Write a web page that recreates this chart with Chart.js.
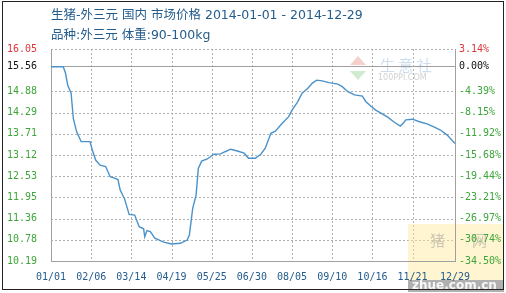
<!DOCTYPE html>
<html>
<head>
<meta charset="utf-8">
<script src="https://cdn.jsdelivr.net/npm/chart.js@4.4.0/dist/chart.umd.min.js"></script>
<style>
  html, body { margin: 0; padding: 0; background: #fff; overflow: hidden; }
  canvas { display: block; }
</style>
</head>
<body>
<canvas id="priceChart" width="506" height="293"></canvas>
<script>
// 生猪-外三元 price line, 2014

const titleLine1 = '生猪-外三元 国内 市场价格 2014-01-01 - 2014-12-29';
const titleLine2 = '品种:外三元 体重:90-100kg';

const dates = ['01/01','01/12','01/14','01/16','01/19','01/21','01/24','01/28','02/05','02/07',
  '02/10','02/14','02/19','02/23','02/27','03/02','03/04','03/08','03/12','03/17',
  '03/21','03/25','03/26','03/28','03/31','04/04','04/12','04/19','04/27','05/03',
  '05/05','05/08','05/11','05/13','05/16','05/21','05/27','06/02','06/06','06/11',
  '06/17','06/23','06/27','07/03','07/08','07/12','07/17','07/21','07/27','08/02',
  '08/05','08/10','08/14','08/19','08/23','08/27','09/01','09/07','09/15','09/19',
  '09/24','09/30','10/07','10/10','10/15','10/19','10/24','10/30','11/04','11/10',
  '11/13','11/15','11/21','11/27','12/04','12/10','12/16','12/22','12/29'];
const prices = [15.56,15.56,15.38,15.05,14.83,14.13,13.76,13.49,13.49,13.26,
  12.98,12.84,12.80,12.52,12.48,12.44,12.15,11.90,11.48,11.46,
  11.14,11.08,10.86,11.03,11.00,10.82,10.71,10.66,10.68,10.77,
  10.91,11.65,12.01,12.75,12.95,13.01,13.14,13.15,13.21,13.28,
  13.23,13.17,13.03,13.03,13.14,13.31,13.72,13.78,13.99,14.18,
  14.36,14.59,14.83,14.96,15.10,15.19,15.17,15.12,15.08,15.01,
  14.87,14.78,14.75,14.60,14.46,14.36,14.27,14.16,14.04,13.92,
  14.01,14.09,14.11,14.04,13.98,13.90,13.81,13.67,13.44];

const xTickDates = ['01/01','02/06','03/14','04/19','05/25','06/30','08/05','09/10','10/16','11/21','12/29'];
const priceTicks = [16.05, 15.56, 14.88, 14.29, 13.71, 13.12, 12.53, 11.95, 11.36, 10.78, 10.19];
const pctTicks = [3.14, 0.00, -4.39, -8.15, -11.92, -15.68, -19.44, -23.21, -26.97, -30.74, -34.50];

const red = '#e0353a';
const green = '#3ea53a';
const navy = '#245c8c';
const gridGrey = '#b0b0b0';
const axisGrey = '#a0a0a0';

// day of year (0 = 01/01)
function dayOf(md) {
  const [m, d] = md.split('/').map(Number);
  return (Date.UTC(2014, m - 1, d) - Date.UTC(2014, 0, 1)) / 86400000;
}
function mdOf(day) {
  const dt = new Date(Date.UTC(2014, 0, 1) + day * 86400000);
  return String(dt.getUTCMonth() + 1).padStart(2, '0') + '/' + String(dt.getUTCDate()).padStart(2, '0');
}

const points = dates.map((d, i) => ({ x: dayOf(d), y: prices[i] }));
const lastDay = dayOf(dates[dates.length - 1]);

const decor = {
  id: 'decor',
  beforeDraw(chart) {
    const c = chart.ctx;
    c.save();
    // 100ppi watermark
    c.fillStyle = 'rgba(230,120,110,0.35)';
    c.beginPath(); c.moveTo(358, 56); c.lineTo(350, 65); c.lineTo(366, 65); c.fill();
    c.fillStyle = 'rgba(120,200,120,0.35)';
    c.beginPath(); c.moveTo(350, 71); c.lineTo(366, 71); c.lineTo(358, 80); c.fill();
    c.font = '15px "Noto Sans CJK SC"';
    c.fillStyle = 'rgba(110,160,210,0.35)';
    c.textBaseline = 'middle';
    c.fillText('生 意 社', 380, 65);
    c.font = '8px "DejaVu Sans"';
    c.fillStyle = 'rgba(150,150,150,0.45)';
    c.fillText('100PPI.COM', 378, 78);
    // zhue watermark
    c.fillStyle = 'rgba(255,232,150,0.45)';
    c.fillRect(408, 224, 96, 56);
    c.fillStyle = 'rgba(150,150,150,0.75)';
    c.fillRect(408, 280, 96, 12);
    c.font = '15px "Noto Sans CJK SC"';
    c.fillStyle = 'rgba(140,140,140,0.45)';
    c.fillText('猪', 430, 240);
    c.fillText('网', 472, 240);
    c.font = 'bold 12px "DejaVu Sans"';
    c.fillStyle = 'rgba(255,255,255,0.9)';
    c.fillText('zhue.com.cn', 412, 286);
    c.restore();
  },
  afterDraw(chart) {
    const c = chart.ctx;
    const a = chart.chartArea;
    const sx = chart.scales.x, sy = chart.scales.y;
    c.save();
    // dotted grid at the scales' own ticks, slipped behind what is already drawn
    c.globalCompositeOperation = 'destination-over';
    c.fillStyle = gridGrey;
    sx.ticks.forEach(t => {
      const x = Math.round(sx.getPixelForValue(t.value));
      if (x > a.right - 2) return;
      for (let y = Math.round(a.top); y < a.bottom; y += 4) c.fillRect(x, y, 1, 2);
    });
    sy.ticks.forEach(t => {
      if (t.value === 15.56) return;
      const y = Math.round(sy.getPixelForValue(t.value));
      for (let x = Math.round(a.left); x < a.right; x += 4) c.fillRect(x, y, 2, 1);
    });
    c.globalCompositeOperation = 'source-over';
    c.textBaseline = 'middle';
    c.fillStyle = navy;
    c.font = '12.5px "DejaVu Sans", "Noto Sans CJK SC"';
    c.fillText(titleLine1, 51, 16);
    c.fillText(titleLine2, 51, 36);
    c.strokeStyle = '#222';
    c.lineWidth = 1;
    c.strokeRect(2.5, 1.5, 501, 288);
    c.restore();
  }
};

new Chart(document.getElementById('priceChart'), {
  type: 'line',
  data: {
    datasets: [{
      data: points,
      borderColor: '#4a92c9',
      borderWidth: 1.4,
      pointRadius: 0,
      tension: 0,
      fill: false,
      yAxisID: 'y'
    }]
  },
  options: {
    responsive: false,
    animation: false,
    layout: { padding: { top: 49 } },
    plugins: { legend: { display: false }, tooltip: { enabled: false } },
    scales: {
      x: {
        type: 'linear',
        min: 0,
        max: lastDay,
        afterBuildTicks: s => { s.ticks = xTickDates.map(d => ({ value: dayOf(d) })); },
        afterFit: s => { s.height = 32; },
        ticks: {
          autoSkip: false, maxRotation: 0, padding: 10,
          color: navy,
          font: { family: 'DejaVu Sans Mono', size: 10 },
          callback: v => mdOf(v)
        },
        grid: { display: false, drawTicks: false },
        border: { display: true, color: axisGrey }
      },
      y: {
        position: 'left',
        min: 10.19,
        max: 16.05,
        afterBuildTicks: s => { s.ticks = priceTicks.slice().reverse().map(v => ({ value: v })); },
        afterFit: s => { s.width = 51; },
        ticks: {
          padding: 14,
          font: { family: 'DejaVu Sans Mono', size: 10 },
          color: c => c.tick.value === 16.05 ? red : (c.tick.value === 15.56 ? '#111' : green),
          callback: v => v.toFixed(2)
        },
        grid: { display: false, drawTicks: false },
        border: { display: true, color: axisGrey }
      },
      y2: {
        position: 'right',
        min: -34.50,
        max: 3.14,
        afterBuildTicks: s => { s.ticks = pctTicks.slice().reverse().map(v => ({ value: v })); },
        afterFit: s => { s.width = 51; },
        ticks: {
          padding: 4,
          font: { family: 'DejaVu Sans Mono', size: 10 },
          color: c => c.tick.value === 3.14 ? red : (c.tick.value === 0 ? '#111' : green),
          callback: v => v.toFixed(2) + '%'
        },
        grid: { color: c => (c.tick && c.tick.value === 0) ? axisGrey : 'rgba(0,0,0,0)', drawTicks: false },
        border: { color: axisGrey, dash: [] }
      }
    }
  },
  plugins: [decor]
});
</script>
</body>
</html>
